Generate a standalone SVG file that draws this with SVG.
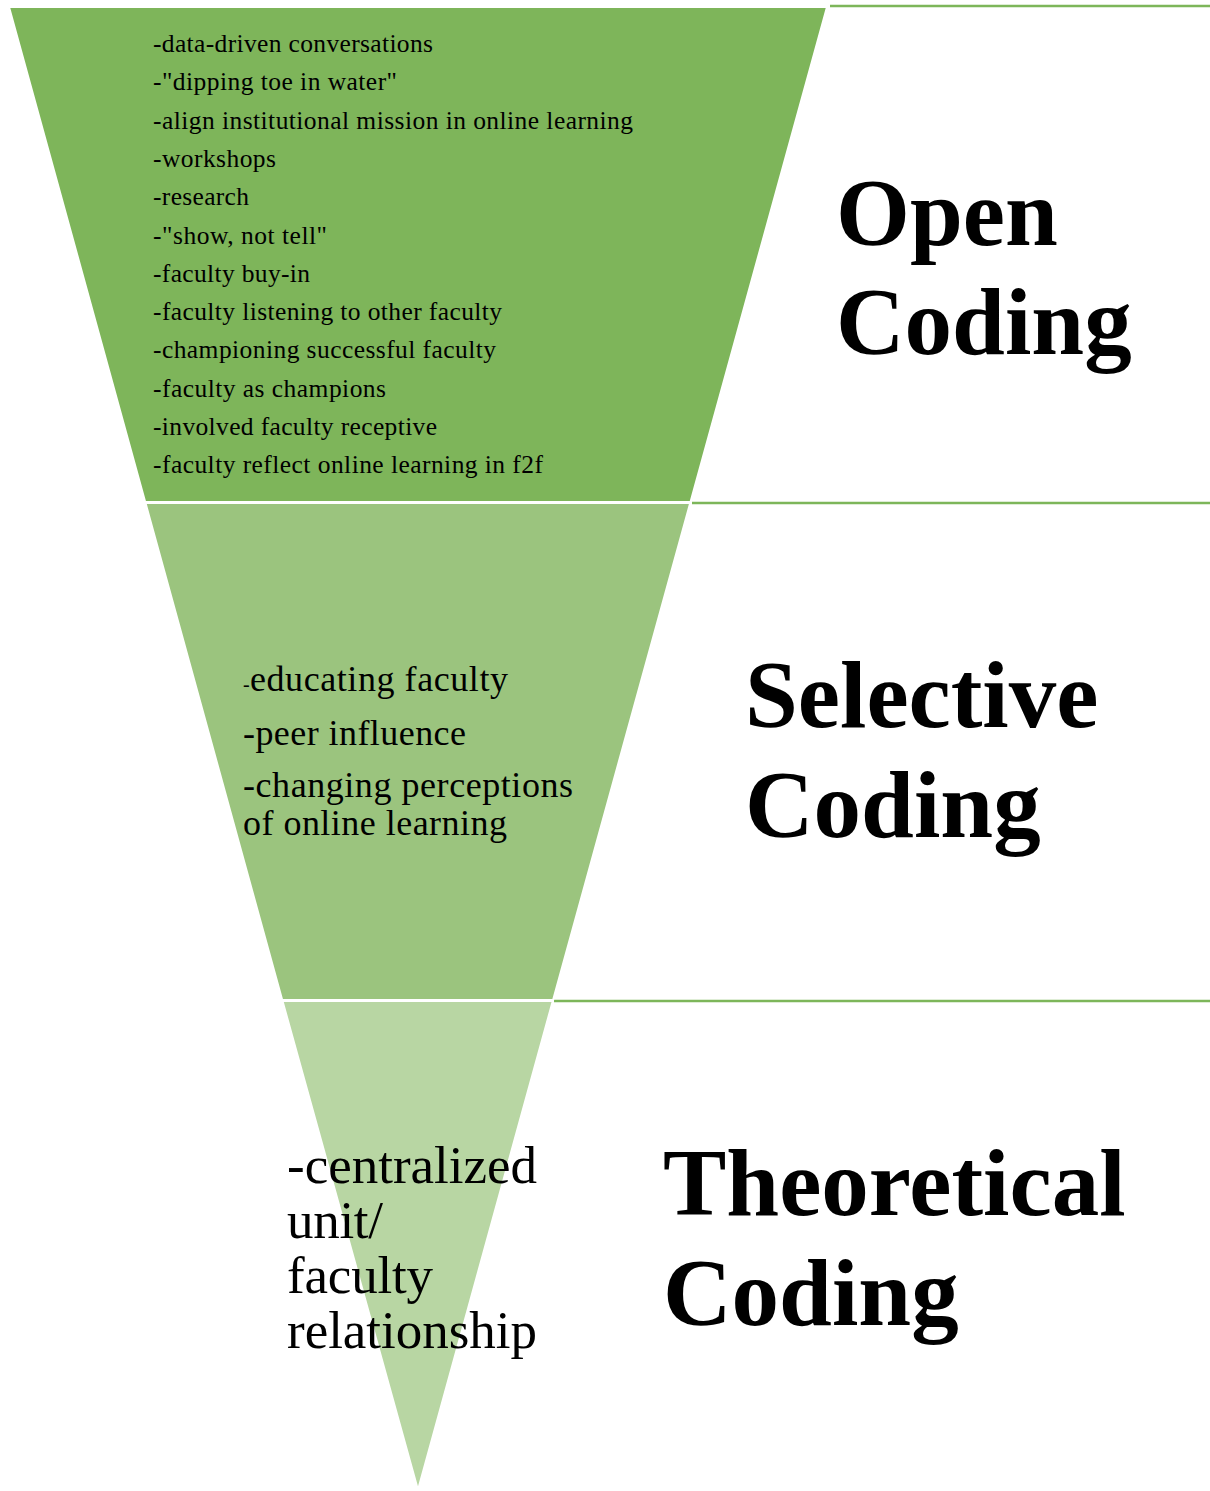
<svg xmlns="http://www.w3.org/2000/svg" width="1210" height="1491" viewBox="0 0 1210 1491">
<style>
.band{stroke:#ffffff;stroke-width:2}
.rule{stroke:#7DB65A;stroke-width:2.5;fill:none}
.t{font-family:"Liberation Serif","Times New Roman",serif;fill:#000}
.s1{font-size:25.5px}
.s2{font-size:36px}
.s3{font-size:53px}
.lbl{font-family:"Liberation Serif","Times New Roman",serif;font-weight:bold;font-size:95px;fill:#000}
</style>
<rect width="1210" height="1491" fill="#ffffff"/>
<g id="connectors">
<line class="rule" x1="830" y1="6" x2="1210" y2="6"/>
<line class="rule" x1="692" y1="503" x2="1210" y2="503"/>
<line class="rule" x1="554" y1="1001" x2="1210" y2="1001"/>
</g>
<g id="open-coding">
<polygon class="band" fill="#7EB55A" points="9,7 827,7 690.5,502 145.2,502"/>
<text class="t s1">
<tspan x="153" y="52" textLength="280">-data-driven conversations</tspan>
<tspan x="153" y="90.3" textLength="244">-"dipping toe in water"</tspan>
<tspan x="153" y="128.6" textLength="480">-align institutional mission in online learning</tspan>
<tspan x="153" y="166.9" textLength="123">-workshops</tspan>
<tspan x="153" y="205.2" textLength="96">-research</tspan>
<tspan x="153" y="243.5" textLength="174">-"show, not tell"</tspan>
<tspan x="153" y="281.8" textLength="157">-faculty buy-in</tspan>
<tspan x="153" y="320.1" textLength="349">-faculty listening to other faculty</tspan>
<tspan x="153" y="358.4" textLength="343">-championing successful faculty</tspan>
<tspan x="153" y="396.7" textLength="233">-faculty as champions</tspan>
<tspan x="153" y="435" textLength="284">-involved faculty receptive</tspan>
<tspan x="153" y="473.3" textLength="390">-faculty reflect online learning in f2f</tspan>
</text>
<text class="lbl"><tspan x="836" y="245">Open</tspan><tspan x="836" y="354">Coding</tspan></text>
</g>
<g id="selective-coding">
<polygon class="band" fill="#9BC47E" points="145.5,503 690.2,503 553.1,1000 282.2,1000"/>
<text class="t s2"><tspan x="243" y="691" font-size="20px">-</tspan><tspan x="250" y="691" textLength="258">educating faculty</tspan><tspan x="243" y="745" textLength="223">-peer influence</tspan><tspan x="243" y="797" textLength="330">-changing perceptions</tspan><tspan x="243" y="835" textLength="264">of online learning</tspan></text>
<text class="lbl"><tspan x="745" y="727">Selective</tspan><tspan x="745" y="837">Coding</tspan></text>
</g>
<g id="theoretical-coding">
<polygon class="band" fill="#B8D6A3" points="282.5,1001 552.8,1001 418,1490"/>
<text class="t s3"><tspan x="287" y="1183" textLength="250">-centralized</tspan><tspan x="287" y="1238" textLength="96">unit/</tspan><tspan x="287" y="1293" textLength="146">faculty</tspan><tspan x="287" y="1348" textLength="250">relationship</tspan></text>
<text class="lbl"><tspan x="663" y="1215">Theoretical</tspan><tspan x="663" y="1325">Coding</tspan></text>
</g>
</svg>
